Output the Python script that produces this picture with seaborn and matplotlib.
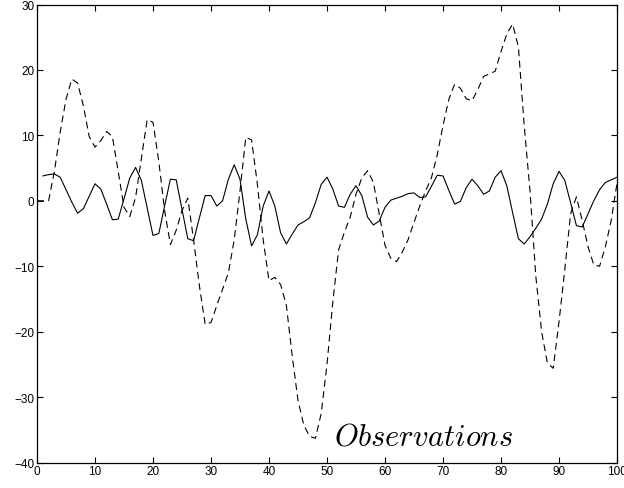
import matplotlib
matplotlib.use("Agg")
import matplotlib.pyplot as plt
import numpy as np
import pandas as pd
import seaborn as sns

# Observed signal (solid), sampled at t = 1..100
obs_t = list(range(1, 101))
obs_y = [
    3.8, 4.0, 4.1, 3.6, 1.7, -0.2, -1.9, -1.2, 0.7, 2.6,
    1.8, -0.5, -2.9, -2.8, 0.3, 3.5, 5.1, 3.1, -1.1, -5.3,
    -5.0, -0.8, 3.3, 3.2, -1.3, -5.8, -6.1, -2.6, 0.8, 0.8,
    -0.8, 0.0, 3.3, 5.5, 3.3, -2.8, -6.9, -5.2, -0.8, 1.5,
    -0.8, -4.9, -6.6, -5.1, -3.7, -3.2, -2.6, -0.3, 2.5, 3.6,
    1.8, -0.8, -1.0, 1.0, 2.3, 0.8, -2.5, -3.7, -3.1, -1.0,
    0.1, 0.4, 0.7, 1.1, 1.2, 0.5, 0.6, 2.2, 3.9, 3.8,
    1.6, -0.5, -0.1, 2.0, 3.3, 2.3, 1.0, 1.5, 3.6, 4.6,
    2.3, -1.8, -5.8, -6.6, -5.5, -4.2, -2.8, -0.5, 2.6, 4.5,
    3.1, -0.3, -3.8, -4.0, -2.0, 0.0, 1.7, 2.8, 3.2, 3.6,
]

# Hidden state (dashed), sampled at t = 0..100
state_t = list(range(0, 101))
state_y = [
    0.0, 0.0, 0.0, 4.5, 10.5, 15.5, 18.6, 18.0, 14.5, 9.8,
    8.2, 9.2, 10.6, 9.8, 4.5, -1.0, -2.4, 0.5, 6.5, 12.4,
    12.0, 6.0, -1.5, -6.7, -4.5, -1.5, 0.4, -6.0, -13.0, -18.9,
    -18.6, -16.0, -13.5, -11.0, -6.0, 1.5, 9.7, 9.3, 2.5, -6.0,
    -12.2, -11.7, -12.8, -16.0, -23.7, -30.5, -34.3, -36.0, -36.3, -32.5,
    -25.0, -15.5, -7.5, -4.8, -2.5, 1.0, 3.5, 4.6, 2.8, -2.0,
    -6.8, -8.8, -9.3, -7.8, -5.9, -3.3, -0.8, 1.5, 3.5, 7.0,
    11.5, 15.5, 17.8, 17.2, 15.6, 15.3, 17.0, 19.0, 19.4, 19.8,
    22.8, 25.5, 27.0, 23.5, 11.5, 1.5, -11.5, -20.0, -24.8, -25.6,
    -18.5, -10.5, -2.0, 0.6, -3.0, -7.0, -9.8, -10.0, -7.0, -3.0,
    2.7,
]

x_ticks = list(range(0, 101, 10))
y_ticks = list(range(-40, 31, 10))
caption = r"$Observations$"

sns.set_style("ticks", {"xtick.direction": "in", "ytick.direction": "in",
                        "axes.edgecolor": "black"})
plt.rcParams["font.family"] = ["Liberation Sans", "DejaVu Sans"]
plt.rcParams["mathtext.fontset"] = "cm"
plt.rcParams["lines.scale_dashes"] = False

fig = plt.figure(figsize=(6.24, 4.89), dpi=100)
ax = fig.add_axes([37 / 624, 1 - 463.5 / 489, 580 / 624, 458 / 489])

obs_df = pd.DataFrame({"t": obs_t, "value": obs_y})
state_df = pd.DataFrame({"t": state_t, "value": state_y})

sns.lineplot(data=obs_df, x="t", y="value", ax=ax, color="black",
             linewidth=0.8, estimator=None)
sns.lineplot(data=state_df, x="t", y="value", ax=ax, color="black",
             linewidth=0.8, estimator=None, dashes=False)
ax.lines[-1].set_dashes((5, 3.2))

ax.set_xlim(0, 100)
ax.set_ylim(-40, 30)
ax.set_xticks(x_ticks)
ax.set_yticks(y_ticks)
ax.set_xticklabels([str(v) for v in x_ticks])
ax.set_yticklabels([str(v).replace("-", "\u2212") for v in y_ticks])
ax.set_xlabel("")
ax.set_ylabel("")
ax.tick_params(axis="both", which="both", direction="in", length=4,
               width=0.8, labelsize=8.5, top=True, right=True, pad=2,
               colors="black")
for side in ["top", "bottom", "left", "right"]:
    ax.spines[side].set_visible(True)
    ax.spines[side].set_linewidth(0.9)
    ax.spines[side].set_color("black")

ax.text(51.2, -37.2, caption, fontsize=22, ha="left", va="baseline",
        color="black")

fig.savefig("out.png", dpi=100, facecolor="white")
